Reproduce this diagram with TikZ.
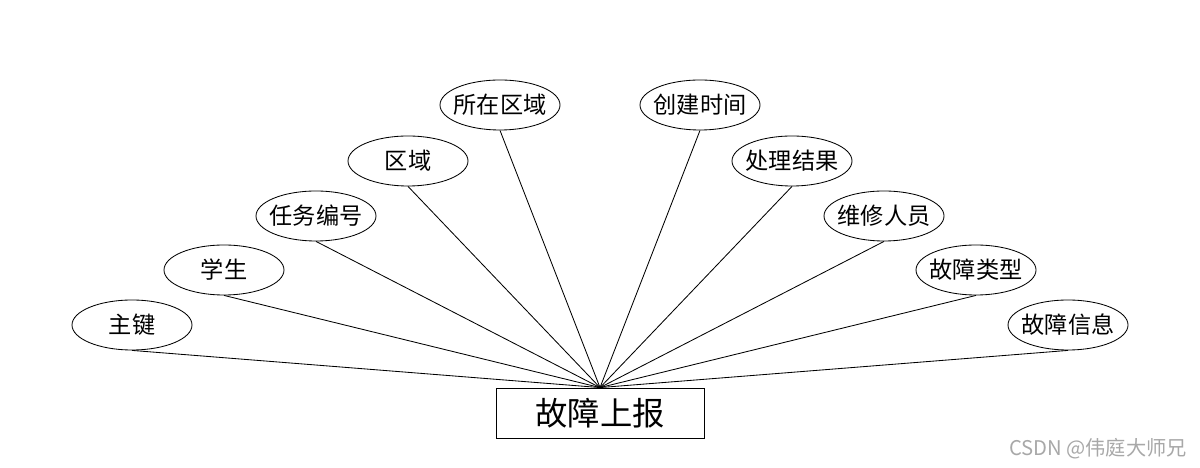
\documentclass[tikz,border=0pt]{standalone}
\usepackage{fontspec}
\usepackage{tikz}
\usetikzlibrary{shapes.geometric}
\newfontfamily\cjk{Noto Sans CJK SC}
\definecolor{Ink}{HTML}{000000}
\definecolor{Mark}{HTML}{A8A8A8}
\tikzset{
  attr/.style={ellipse,draw=Ink,line width=0.6pt,minimum width=3cm,minimum height=1.25cm,inner xsep=-0.16cm,inner ysep=0pt,font=\cjk\fontsize{16.5}{16.5}\selectfont},
  entity/.style={rectangle,draw=Ink,line width=0.6pt,minimum width=5.2cm,minimum height=1.25cm,inner sep=0pt,font=\cjk\fontsize{23}{23}\selectfont},
  link/.style={line width=0.6pt,Ink}
}
\begin{document}
\begin{tikzpicture}[x=1cm,y=1cm]
      \useasboundingbox (0,0) rectangle (30,11.7);
      \node[entity] (report) at (15,1.375) {故障上报};
      \node[attr] (key) at (3.3,3.575) {主键};
      \node[attr] (student) at (5.6,4.95) {学生};
      \node[attr] (taskno) at (7.9,6.3) {任务编号};
      \node[attr] (area) at (10.2,7.675) {区域};
      \node[attr] (place) at (12.5,9.075) {所在区域};
      \node[attr] (created) at (17.5,9.075) {创建时间};
      \node[attr] (result) at (19.8,7.675) {处理结果};
      \node[attr] (repairer) at (22.1,6.3) {维修人员};
      \node[attr] (kind) at (24.4,4.95) {故障类型};
      \node[attr] (info) at (26.7,3.575) {故障信息};
      \foreach \a in {key,student,taskno,area,place,created,result,repairer,kind,info}
        \draw[link] (\a.south) -- (report.north);
      \node[Mark,font=\cjk\fontsize{14.4}{14.4}\selectfont] (mark) at (27.45,0.475) {CSDN @伟庭大师兄};
    \end{tikzpicture}
\end{document}
